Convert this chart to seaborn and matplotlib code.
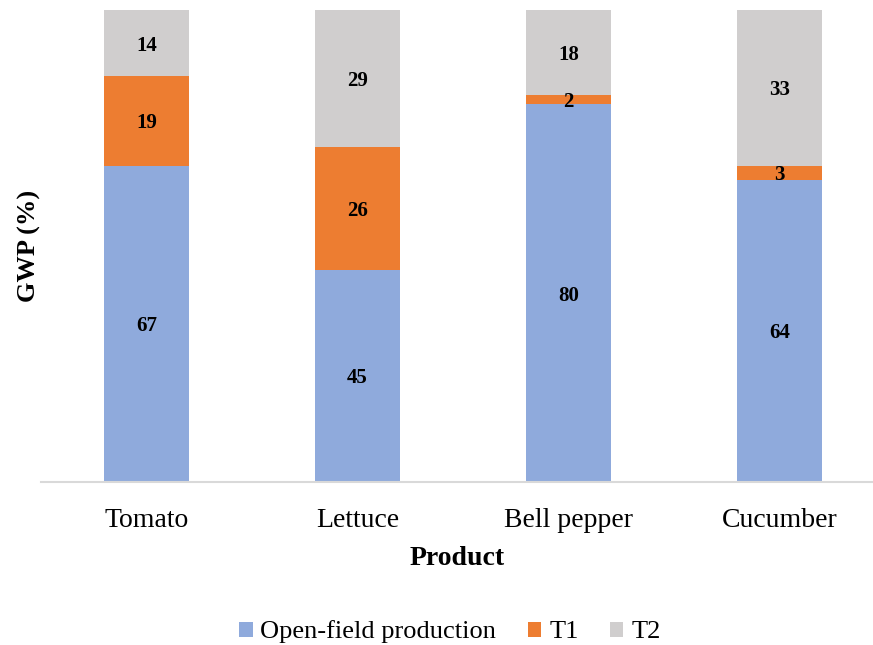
"""Stacked GWP share per product."""

import matplotlib

matplotlib.use("Agg")
import matplotlib.pyplot as plt
import numpy as np
import pandas as pd
import seaborn as sns
from matplotlib.patches import Patch

products = ["Tomato", "Lettuce", "Bell pepper", "Cucumber"]
open_field = [67, 45, 80, 64]
t1 = [19, 26, 2, 3]
t2 = [14, 29, 18, 33]
series_names = ["Open-field production", "T1", "T2"]
colors = ["#8FAADC", "#ED7D31", "#D0CECE"]


def main():
    """Go Main Go."""
    sns.set_style("white")
    plt.rcParams["font.family"] = ["Liberation Serif", "DejaVu Serif"]
    plt.rcParams["text.color"] = "black"
    plt.rcParams["axes.labelcolor"] = "black"
    plt.rcParams["xtick.color"] = "black"

    fig = plt.figure(figsize=(8.73, 6.45), dpi=100)
    ax = fig.add_axes([41 / 873, 1 - 482 / 645, 1 - 41 / 873, 472 / 645])

    vals = [open_field, t1, t2]
    cum = np.cumsum(np.array(vals), axis=0)
    # draw from the top so lower segments cover upper ones
    for i in [2, 1, 0]:
        df = pd.DataFrame({"product": products, "val": cum[i]})
        sns.barplot(
            data=df, x="product", y="val", color=colors[i], width=0.403,
            saturation=1, linewidth=0, ax=ax,
        )
    for i in range(3):
        for j in range(len(products)):
            ymid = cum[i][j] - vals[i][j] / 2.0
            ax.text(j, ymid, str(vals[i][j]), ha="center",
                    va="center_baseline", fontsize=15, fontweight="bold",
                    color="black")

    ax.set_ylim(0, 100)
    ax.set_xlim(-0.5, -0.5 + 832 / 211)
    ax.set_yticks([])
    for side in ["top", "right", "left"]:
        ax.spines[side].set_visible(False)
    ax.spines["bottom"].set_color("#D9D9D9")
    ax.spines["bottom"].set_linewidth(1.5)
    ax.tick_params(axis="x", length=0, labelsize=20, pad=19)
    ax.set_xlabel("Product", fontsize=20, fontweight="bold", labelpad=9)
    ax.set_ylabel("GWP (%)", fontsize=19, fontweight="bold", labelpad=0)

    handles = [Patch(facecolor=c, edgecolor="none") for c in colors]
    fig.legend(handles, series_names, loc="center", ncol=3,
               bbox_to_anchor=(450 / 873, 1 - 632 / 645), frameon=False,
               fontsize=19, handlelength=0.5, handleheight=0.5,
               handletextpad=0.3, columnspacing=1.2)

    plt.savefig("out.png", dpi=100)


if __name__ == "__main__":
    main()
